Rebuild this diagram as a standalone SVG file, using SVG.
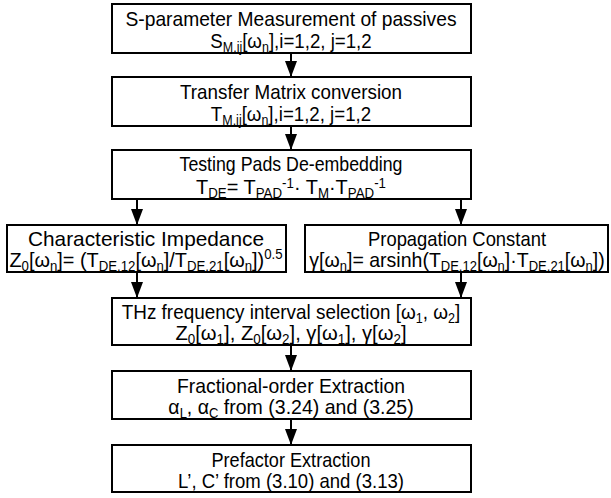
<svg xmlns="http://www.w3.org/2000/svg" width="611" height="498" viewBox="0 0 611 498">
<style>
.box{fill:#fff;stroke:#000;stroke-width:2}
text{font-family:"Liberation Sans",Arial,sans-serif;font-size:21px;fill:#000;text-anchor:middle}
.s{font-size:14px}
.con{stroke:#000;stroke-width:2;fill:none}
</style>
<defs>
<marker id="a" markerWidth="16" markerHeight="12" refX="16" refY="6" orient="auto" markerUnits="userSpaceOnUse" viewBox="0 0 16 12">
<path d="M0,0 L16,6 L0,12 Z" fill="#000"/>
</marker>
</defs>
<g id="connectors">
<line class="con" x1="291" y1="53" x2="291" y2="77" marker-end="url(#a)"/>
<line class="con" x1="291" y1="126" x2="291" y2="150" marker-end="url(#a)"/>
<line class="con" x1="137" y1="199" x2="137" y2="225" marker-end="url(#a)"/>
<line class="con" x1="461" y1="199" x2="461" y2="225" marker-end="url(#a)"/>
<line class="con" x1="137" y1="272" x2="137" y2="298" marker-end="url(#a)"/>
<line class="con" x1="461" y1="272" x2="461" y2="298" marker-end="url(#a)"/>
<line class="con" x1="291" y1="345" x2="291" y2="371" marker-end="url(#a)"/>
<line class="con" x1="291" y1="419" x2="291" y2="445" marker-end="url(#a)"/>
</g>
<g id="n1">
<rect class="box" x="112" y="4" width="359" height="49"/>
<text x="291" y="26" textLength="331" lengthAdjust="spacingAndGlyphs">S-parameter Measurement of passives</text>
<text transform="matrix(0.89 0 0 1 291 0)" x="0" y="48">S<tspan class="s" dy="4">M,ij</tspan><tspan dy="-4">[ω</tspan><tspan class="s" dy="4">n</tspan><tspan dy="-4">],i=1,2, j=1,2</tspan></text>
</g>
<g id="n2">
<rect class="box" x="112" y="77" width="359" height="49"/>
<text x="291" y="99" textLength="222" lengthAdjust="spacingAndGlyphs">Transfer Matrix conversion</text>
<text transform="matrix(0.89 0 0 1 291 0)" x="0" y="121">T<tspan class="s" dy="4">M,ij</tspan><tspan dy="-4">[ω</tspan><tspan class="s" dy="4">n</tspan><tspan dy="-4">],i=1,2, j=1,2</tspan></text>
</g>
<g id="n3">
<rect class="box" x="112" y="150" width="359" height="49"/>
<text x="291" y="171" textLength="223" lengthAdjust="spacingAndGlyphs">Testing Pads De-embedding</text>
<text transform="matrix(0.95 0 0 1 291 0)" x="0" y="194">T<tspan class="s" dy="4">DE</tspan><tspan dy="-4">= T</tspan><tspan class="s" dy="4">PAD</tspan><tspan class="s" dy="-10">-1</tspan><tspan dy="6">· T</tspan><tspan class="s" dy="4">M</tspan><tspan dy="-4">·T</tspan><tspan class="s" dy="4">PAD</tspan><tspan class="s" dy="-10">-1</tspan></text>
</g>
<g id="n4">
<rect class="box" x="7" y="225" width="279" height="47"/>
<text x="146" y="246" textLength="236" lengthAdjust="spacingAndGlyphs">Characteristic Impedance</text>
<text transform="matrix(0.945 0 0 1 146 0)" x="0" y="267">Z<tspan class="s" dy="4">0</tspan><tspan dy="-4">[ω</tspan><tspan class="s" dy="4">n</tspan><tspan dy="-4">]= (T</tspan><tspan class="s" dy="4">DE,12</tspan><tspan dy="-4">[ω</tspan><tspan class="s" dy="4">n</tspan><tspan dy="-4">]/T</tspan><tspan class="s" dy="4">DE,21</tspan><tspan dy="-4">[ω</tspan><tspan class="s" dy="4">n</tspan><tspan dy="-4">])</tspan><tspan class="s" dy="-8">0.5</tspan></text>
</g>
<g id="n5">
<rect class="box" x="305" y="225" width="303" height="47"/>
<text x="457" y="246" textLength="178" lengthAdjust="spacingAndGlyphs">Propagation Constant</text>
<text transform="matrix(0.93 0 0 1 457 0)" x="0" y="267">γ[ω<tspan class="s" dy="4">n</tspan><tspan dy="-4">]= arsinh(T</tspan><tspan class="s" dy="4">DE,12</tspan><tspan dy="-4">[ω</tspan><tspan class="s" dy="4">n</tspan><tspan dy="-4">]·T</tspan><tspan class="s" dy="4">DE,21</tspan><tspan dy="-4">[ω</tspan><tspan class="s" dy="4">n</tspan><tspan dy="-4">])</tspan></text>
</g>
<g id="n6">
<rect class="box" x="112" y="298" width="359" height="47"/>
<text transform="matrix(0.9 0 0 1 291 0)" x="0" y="319">THz frequency interval selection [ω<tspan class="s" dy="4">1</tspan><tspan dy="-4">, ω</tspan><tspan class="s" dy="4">2</tspan><tspan dy="-4">]</tspan></text>
<text transform="matrix(0.96 0 0 1 291 0)" x="0" y="340">Z<tspan class="s" dy="4">0</tspan><tspan dy="-4">[ω</tspan><tspan class="s" dy="4">1</tspan><tspan dy="-4">], Z</tspan><tspan class="s" dy="4">0</tspan><tspan dy="-4">[ω</tspan><tspan class="s" dy="4">2</tspan><tspan dy="-4">], γ[ω</tspan><tspan class="s" dy="4">1</tspan><tspan dy="-4">], γ[ω</tspan><tspan class="s" dy="4">2</tspan><tspan dy="-4">]</tspan></text>
</g>
<g id="n7">
<rect class="box" x="112" y="371" width="359" height="48"/>
<text x="291" y="393" textLength="228" lengthAdjust="spacingAndGlyphs">Fractional-order Extraction</text>
<text transform="matrix(0.93 0 0 1 291 0)" x="0" y="414">α<tspan class="s" dy="4">L</tspan><tspan dy="-4">, α</tspan><tspan class="s" dy="4">C</tspan><tspan dy="-4"> from (3.24) and (3.25)</tspan></text>
</g>
<g id="n8">
<rect class="box" x="112" y="445" width="359" height="47"/>
<text x="291" y="467" textLength="159" lengthAdjust="spacingAndGlyphs">Prefactor Extraction</text>
<text x="291" y="488" textLength="226" lengthAdjust="spacingAndGlyphs">L’, C’ from (3.10) and (3.13)</text>
</g>
</svg>
